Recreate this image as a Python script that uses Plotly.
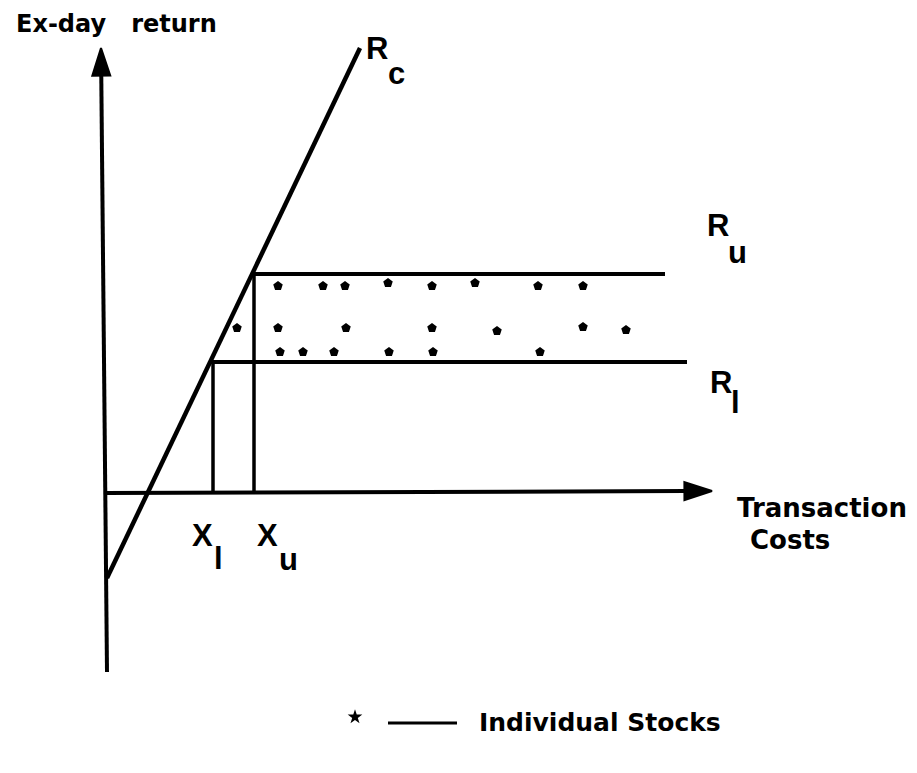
import plotly.graph_objects as go

# ---------------- data (arbitrary units: transaction cost vs ex-day return) -------------
# axes (slightly tilted vertical axis as in the scanned original)
v_axis_x = [2, -4]
v_axis_y = [-179, 445]
h_axis_x = [0, 607]
h_axis_y = [0, 2]

# R_c: critical return line (two end points)
rc_x = [2, 255]
rc_y = [-85, 445]

# horizontal bounds R_u and R_l
r_u = 219
r_l = 131
ru_x = [147, 560]
rl_x = [106, 582]

# cost thresholds X_l and X_u
x_l = 108
x_u = 149

# individual stocks
stock_cost = [173, 218, 240, 283, 327, 370, 433, 478,
              132, 173, 241, 327, 392, 478, 521,
              175, 198, 229, 284, 328, 435]
stock_ret = [207, 207, 207, 210, 207, 210, 207, 207,
             165, 165, 165, 165, 162, 166, 163,
             141, 141, 141, 141, 141, 141]

# ---------------- figure -------------
BLACK = "#000000"
fig = go.Figure()

def seg(x, y, w):
    fig.add_trace(go.Scatter(x=x, y=y, mode="lines",
                             line=dict(color=BLACK, width=w),
                             hoverinfo="skip", showlegend=False))

def arrow_axis(x, y, w):
    fig.add_trace(go.Scatter(x=x, y=y, mode="lines+markers",
                             line=dict(color=BLACK, width=w),
                             marker=dict(symbol="arrow", size=[0, 29], color=BLACK,
                                         opacity=1, angleref="previous",
                                         line=dict(width=2, color=BLACK)),
                             hoverinfo="skip", showlegend=False))

arrow_axis(v_axis_x, v_axis_y, 4)
arrow_axis(h_axis_x, h_axis_y, 4)
seg(rc_x, rc_y, 4.5)
seg(ru_x, [r_u, r_u], 4)
seg(rl_x, [r_l, r_l], 4)
seg([x_l, x_l], [0, r_l], 3.5)
seg([x_u, x_u], [0, r_u], 3.5)

fig.add_trace(go.Scatter(x=stock_cost, y=stock_ret, mode="markers",
                         marker=dict(symbol="pentagon", size=10, color=BLACK),
                         hoverinfo="skip", showlegend=False))

# legend: star + dash + label
fig.add_trace(go.Scatter(x=[250], y=[-224], mode="markers",
                         marker=dict(symbol="star", size=11, color=BLACK),
                         hoverinfo="skip", showlegend=False))
seg([283, 352], [-230, -230], 3)

def tfont(size):
    return dict(family="DejaVu Sans", size=size, color=BLACK)

LABEL_FONT = dict(family="Liberation Sans", size=31, color=BLACK)

def label(text, x, y, font, xanchor="center"):
    fig.add_annotation(x=x, y=y, xref="x", yref="y", text=text, showarrow=False,
                       xanchor=xanchor, yanchor="middle", font=font)

label("<b>Ex-day\u00a0\u00a0 return</b>", 11, 469, tfont(24))
label("<b>Transaction</b>", 630, -15, tfont(26), "left")
label("<b>Costs</b>", 643, -47, tfont(26), "left")
label("<b>Individual Stocks</b>", 372, -229, tfont(25), "left")

label("<b>R</b>", 272, 445, LABEL_FONT)
label("<b>c</b>", 291, 420, LABEL_FONT)
label("<b>R</b>", 613, 268, LABEL_FONT)
label("<b>u</b>", 632, 241, LABEL_FONT)
label("<b>R</b>", 616, 111, LABEL_FONT)
label("<b>l</b>", 630, 91, LABEL_FONT)
label("<b>X</b>", 97, -42, LABEL_FONT)
label("<b>l</b>", 113, -65, LABEL_FONT)
label("<b>X</b>", 162, -42, LABEL_FONT)
label("<b>u</b>", 183, -66, LABEL_FONT)

# the page adds an 8 px body margin; shift the ranges so the drawing sits where the original does
fig.update_layout(
    width=917, height=773,
    margin=dict(l=0, r=0, t=0, b=0),
    paper_bgcolor="white", plot_bgcolor="white",
    xaxis=dict(range=[-97, 820], visible=False, fixedrange=True),
    yaxis=dict(range=[-288, 485], visible=False, fixedrange=True),
    showlegend=False,
)

fig.write_html("out.html")
